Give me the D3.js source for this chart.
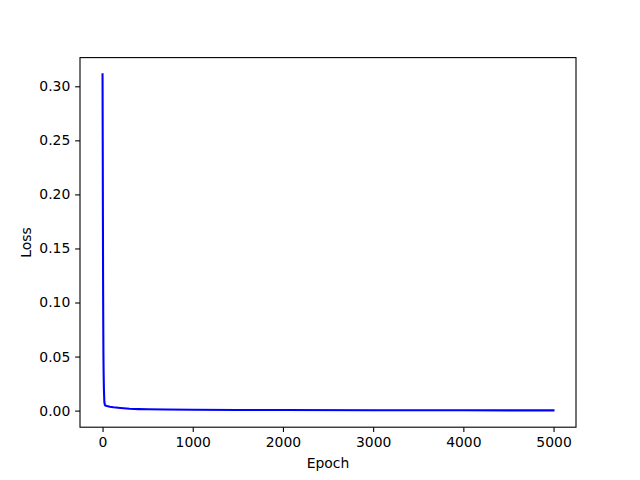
<!DOCTYPE html>
<html><head><meta charset="utf-8">
<script src="https://cdn.jsdelivr.net/npm/d3@7"></script>
<style>body{margin:0;background:#fff}svg text{font-family:"DejaVu Sans",sans-serif;}</style>
</head><body>
<svg id="c" width="640" height="480"></svg>
<script>
const epochs = [0, 2, 4, 6, 8, 10, 12, 15, 20, 25, 30, 50, 80, 120, 200, 300, 400, 500, 700, 1000, 1500, 2000, 3000, 4000, 4999];
const losses = [0.311, 0.25, 0.18, 0.12, 0.08, 0.05, 0.035, 0.02, 0.008, 0.0055, 0.0048, 0.0042, 0.0036, 0.0031, 0.0024, 0.0017, 0.0014, 0.0012, 0.0010, 0.0008, 0.0006, 0.0005, 0.0004, 0.0003, 0.0002];
const xTicks = [0, 1000, 2000, 3000, 4000, 5000];
const yTicks = [0.00, 0.05, 0.10, 0.15, 0.20, 0.25, 0.30];

const L = 80, R = 576, T = 57.6, B = 427.2;
const svg = d3.select("#c");
const xmin = 0, xmax = 4999, ymin = d3.min(losses), ymax = d3.max(losses);
const xm = (xmax - xmin) * 0.05, ym = (ymax - ymin) * 0.05;
const x = d3.scaleLinear().domain([xmin - xm, xmax + xm]).range([L, R]);
const y = d3.scaleLinear().domain([ymin - ym, ymax + ym]).range([B, T]);

const data = epochs.map((e, i) => [e, losses[i]]);
svg.append("path").datum(data)
  .attr("fill", "none").attr("stroke", "#0000ff").attr("stroke-width", 2.08)
  .attr("stroke-linejoin", "round").attr("stroke-linecap", "square")
  .attr("d", d3.line().x(d => x(d[0])).y(d => y(d[1])));

const xa = svg.append("g").attr("transform", `translate(0,${B})`)
  .call(d3.axisBottom(x).tickValues(xTicks).tickFormat(d3.format("d")).tickSizeInner(4.86).tickSizeOuter(0).tickPadding(4.86));
const ya = svg.append("g").attr("transform", `translate(${L},0)`)
  .call(d3.axisLeft(y).tickValues(yTicks).tickFormat(d3.format(".2f")).tickSizeInner(4.86).tickSizeOuter(0).tickPadding(4.86));
[xa, ya].forEach(a => {
  a.select(".domain").remove();
  a.selectAll("line").attr("stroke", "#000").attr("stroke-width", 1.1);
  a.selectAll("text").attr("font-size", "13.9px").attr("fill", "#000").attr("font-family", "DejaVu Sans");
});
svg.append("rect").attr("x", L).attr("y", T).attr("width", R - L).attr("height", B - T)
  .attr("fill", "none").attr("stroke", "#000").attr("stroke-width", 1.1);

svg.append("text").attr("x", (L + R) / 2).attr("y", 468).attr("text-anchor", "middle")
  .attr("font-size", "13.9px").text("Epoch");
svg.append("text").attr("transform", `translate(31,${(T + B) / 2}) rotate(-90)`).attr("text-anchor", "middle")
  .attr("font-size", "13.9px").text("Loss");
</script>
</body></html>
